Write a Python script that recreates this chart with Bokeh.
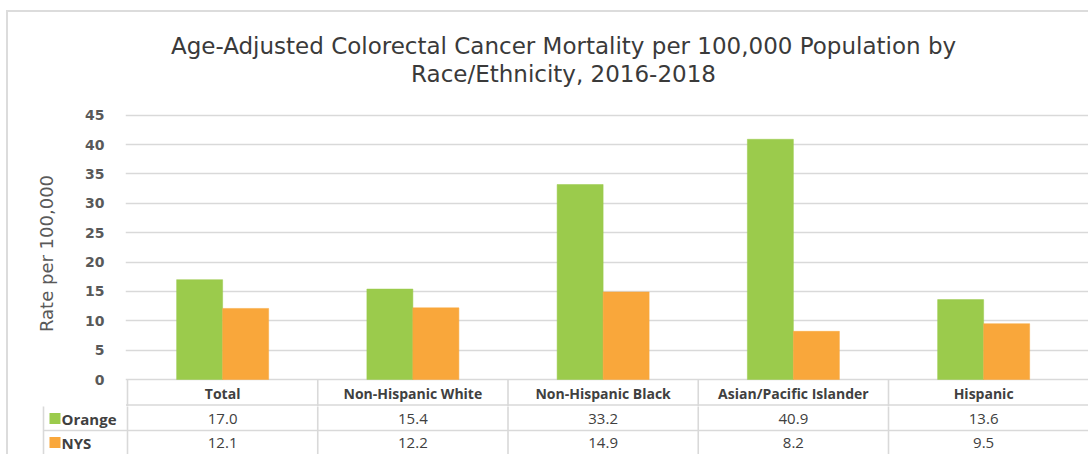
from bokeh.plotting import figure
from bokeh.models import Range1d, FixedTicker, ColumnDataSource
from bokeh.layouts import column
from bokeh.core.properties import value
from bokeh.embed import file_html
from bokeh.resources import INLINE

# ---- data ----
categories = ["Total", "Non-Hispanic White", "Non-Hispanic Black",
              "Asian/Pacific Islander", "Hispanic"]
orange_vals = [17.0, 15.4, 33.2, 40.9, 13.6]
nys_vals = [12.1, 12.2, 14.9, 8.2, 9.5]
series_names = ["Orange", "NYS"]
y_ticks = [0, 5, 10, 15, 20, 25, 30, 35, 40, 45]
title_lines = ["Age-Adjusted Colorectal Cancer Mortality per 100,000 Population by",
               "Race/Ethnicity, 2016-2018"]
y_label = "Rate per 100,000"

# ---- style ----
GREEN = "#9BCB4C"
ORANGE = "#F9A73B"
GRID = "#d9d9d9"
TXT = "#404040"
AX = "#595959"
FONT = "Open Sans"
WIDE = "DejaVu Sans"

# ---- geometry (page pixels) ----
ORIGIN_X, ORIGIN_Y = 8, 12      # where the figures start (after css border)
W = 1088 - ORIGIN_X
HT = 100 - ORIGIN_Y             # title strip
H1 = 406 - 100                  # chart + table header
H2 = 454 - 406                  # table body
CAT_PX = 190.25
CAT0 = 127                      # page x of category 0 left boundary
FRAME_LEFT_PAGE = 125
ZERO_PAGE = 379
PX_PER_UNIT = (379 - 114.7) / 45.0
ROW_PX = 24

def px_to_x(px):
    return (px - CAT0) / CAT_PX

n = len(categories)
centers = [i + 0.5 for i in range(n)]
bw = 46.0 / CAT_PX

# ---- title strip ----
t = figure(width=W, height=HT, x_range=Range1d(0, W), y_range=Range1d(0, HT),
           output_backend="svg", toolbar_location=None, min_border=0)
t.min_border_left = t.min_border_right = t.min_border_top = t.min_border_bottom = 0
t.frame_align = False
t.outline_line_color = None
t.axis.visible = False
t.grid.visible = False
t.text(x=[563 - ORIGIN_X] * 2, y=[HT - (45 - ORIGIN_Y), HT - (73 - ORIGIN_Y)],
       text=title_lines, text_font=value(WIDE), text_font_size="23px",
       text_color="#3a3a3a", text_align="center", text_baseline="middle")

# ---- chart ----
x0 = px_to_x(FRAME_LEFT_PAGE)
x1 = px_to_x(1088)
y_end = (ZERO_PAGE - 100) / PX_PER_UNIT
y_start = -(406 - ZERO_PAGE) / PX_PER_UNIT

p = figure(width=W, height=H1, x_range=Range1d(x0, x1), y_range=Range1d(y_start, y_end),
           output_backend="svg", toolbar_location=None,
           min_border_left=FRAME_LEFT_PAGE - ORIGIN_X, min_border_right=0,
           min_border_top=0, min_border_bottom=0)
p.frame_align = False
p.outline_line_color = None
p.xaxis.visible = False
p.xgrid.visible = False
p.ygrid.ticker = FixedTicker(ticks=y_ticks)
p.ygrid.grid_line_color = GRID
p.ygrid.grid_line_width = 1.6
yax = p.yaxis[0]
yax.ticker = FixedTicker(ticks=y_ticks)
yax.axis_line_color = None
yax.major_tick_line_color = None
yax.minor_tick_line_color = None
yax.major_label_standoff = 15
yax.major_label_text_font = WIDE
yax.major_label_text_font_size = "14px"
yax.major_label_text_font_style = "bold"
yax.major_label_text_color = AX
yax.axis_label = y_label
yax.axis_label_text_font = WIDE
yax.axis_label_text_font_size = "18px"
yax.axis_label_text_font_style = "normal"
yax.axis_label_text_color = AX
yax.axis_label_standoff = 25

src = ColumnDataSource(dict(
    xo=[c - bw / 2 for c in centers], xn=[c + bw / 2 for c in centers],
    o=orange_vals, n=nys_vals))
p.vbar(x="xo", top="o", bottom=0, width=bw, source=src, fill_color=GREEN,
       line_color=GREEN, line_width=0.5)
p.vbar(x="xn", top="n", bottom=0, width=bw, source=src, fill_color=ORANGE,
       line_color=ORANGE, line_width=0.5)

# table header row (below y = 0)
hdr_bottom = -(404.5 - ZERO_PAGE) / PX_PER_UNIT
vlines = list(range(n))
p.segment(x0=vlines, y0=[0] * n, x1=vlines, y1=[y_start] * n,
          line_color=GRID, line_width=1.6)
p.segment(x0=[px_to_x(125.5)], y0=[hdr_bottom], x1=[x1], y1=[hdr_bottom],
          line_color=GRID, line_width=1.6)
p.text(x=centers, y=[-(392.5 - ZERO_PAGE) / PX_PER_UNIT] * n, text=categories,
       text_font=value(FONT), text_font_size="14px", text_font_style="bold",
       text_color=TXT, text_align="center", text_baseline="middle")

# ---- table body ----
q = figure(width=W, height=H2, x_range=Range1d(px_to_x(ORIGIN_X), x1),
           y_range=Range1d(2 - H2 / ROW_PX, 2), output_backend="svg",
           toolbar_location=None, min_border=0)
q.min_border_left = q.min_border_right = q.min_border_top = q.min_border_bottom = 0
q.frame_align = False
q.outline_line_color = None
q.axis.visible = False
q.grid.visible = False
leg_left = px_to_x(43)
vx = [leg_left] + list(range(n))
q.segment(x0=vx, y0=[-1] * len(vx), x1=vx, y1=[3] * len(vx), line_color=GRID, line_width=1.6)
q.segment(x0=[leg_left], y0=[1], x1=[x1], y1=[1], line_color=GRID, line_width=1.6)

rows = [orange_vals, nys_vals]
colors = [GREEN, ORANGE]
for r, (vals, col, name) in enumerate(zip(rows, colors, series_names)):
    yc = 1.5 - r
    q.text(x=centers, y=[yc] * n, text=[f"{v:.1f}" for v in vals],
           text_font=value(FONT), text_font_size="15px", text_color=TXT,
           text_align="center", text_baseline="middle")
    q.scatter(x=[px_to_x(54.5)], y=[yc], marker="square", size=11,
              fill_color=col, line_color=None)
    q.text(x=[px_to_x(61)], y=[yc], text=[name],
           text_font=value(FONT), text_font_size="15px", text_font_style="bold",
           text_color=TXT, text_align="left", text_baseline="middle")

layout = column(t, p, q, styles={"border-left": "2px solid #dcdcdc",
                                 "border-top": "2px solid #dcdcdc",
                                 "margin-top": "10px", "margin-left": "6px"})

open("out.html", "w").write(file_html(layout, INLINE))
